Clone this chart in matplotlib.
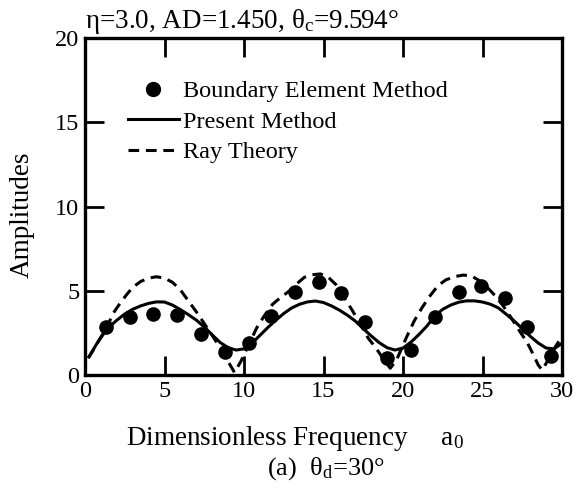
import numpy as np
import matplotlib
matplotlib.use('Agg')
import matplotlib.pyplot as plt
from matplotlib.lines import Line2D

# Boundary Element Method (dots)
bem_a0 = [1.3, 2.8, 4.3, 5.8, 7.3, 8.8, 10.3, 11.7, 13.2, 14.7, 16.1, 17.6,
          19.0, 20.5, 22.0, 23.5, 24.9, 26.4, 27.8, 29.3, 30.35]
bem_amp = [2.85, 3.45, 3.62, 3.56, 2.45, 1.35, 1.88, 3.5, 4.95, 5.5, 4.87, 3.16,
           1.0, 1.5, 3.45, 4.94, 5.28, 4.55, 2.82, 1.1, 2.0]

# Present Method (solid)
pm_a0 = [0.2, 0.8, 1.4, 2.0, 2.5, 3.0, 3.5, 4.0, 4.5, 5.0, 5.5, 6.0, 6.5, 7.0,
         7.5, 8.0, 8.5, 9.0, 9.5, 10.0, 10.5, 11.0, 11.5, 12.0, 12.5, 13.0,
         13.5, 14.0, 14.5, 15.0, 15.5, 16.0, 16.5, 17.0, 17.5, 18.0, 18.5,
         19.0, 19.5, 20.0, 20.5, 21.0, 21.5, 22.0, 22.5, 23.0, 23.5, 24.0,
         24.5, 25.0, 25.5, 26.0, 26.5, 27.0, 27.5, 28.0, 28.5, 29.0, 29.5, 30.0]
pm_amp = [1.0, 1.95, 2.75, 3.25, 3.62, 3.9, 4.1, 4.25, 4.34, 4.33, 4.15, 3.88,
          3.58, 3.26, 2.85, 2.38, 1.93, 1.62, 1.48, 1.55, 1.88, 2.35, 2.82,
          3.25, 3.65, 3.98, 4.2, 4.34, 4.39, 4.3, 4.1, 3.85, 3.55, 3.2, 2.75,
          2.32, 1.92, 1.62, 1.48, 1.6, 1.95, 2.4, 2.9, 3.5, 3.9, 4.15, 4.32,
          4.4, 4.4, 4.33, 4.2, 3.98, 3.6, 3.2, 2.75, 2.3, 1.9, 1.6, 1.55, 1.88]

# Ray Theory (dashed)
rt_a0 = [0.2, 0.6, 1.0, 1.4, 1.8, 2.2, 2.6, 3.0, 3.5, 4.0, 4.5, 5.0, 5.5, 6.0,
         6.5, 7.0, 7.5, 8.0, 8.5, 9.0, 9.4, 9.8, 10.3, 10.8, 11.3, 11.8, 12.3,
         12.8, 13.3, 13.8, 14.3, 14.8, 15.3, 15.8, 16.3, 16.8, 17.3, 17.8,
         18.3, 18.8, 19.2, 19.6, 20.2, 20.7, 21.2, 21.7, 22.2, 22.7, 23.3,
         23.8, 24.3, 24.8, 25.3, 25.8, 26.3, 26.8, 27.3, 27.8, 28.2, 28.5,
         28.75, 29.2, 29.6, 30.0]
rt_amp = [1.0, 1.6, 2.25, 2.9, 3.7, 4.25, 4.75, 5.2, 5.55, 5.75, 5.83, 5.75,
          5.5, 5.05, 4.4, 3.75, 3.05, 2.35, 1.6, 0.8, 0.15, 0.8, 1.8, 2.8,
          3.55, 4.2, 4.6, 4.95, 5.4, 5.8, 5.95, 6.0, 5.8, 5.35, 4.6, 3.85,
          3.05, 2.2, 1.6, 0.9, 0.4, 0.9, 2.2, 3.2, 4.0, 4.7, 5.3, 5.65, 5.85,
          5.93, 5.88, 5.6, 5.2, 4.7, 4.1, 3.4, 2.65, 1.95, 1.2, 0.6, 0.3, 1.0,
          1.7, 2.3]

x_ticks = [0, 5, 10, 15, 20, 25, 30]
y_ticks = [0, 5, 10, 15, 20]

plt.rcParams['font.family'] = ['Liberation Serif', 'DejaVu Serif']
plt.rcParams['mathtext.fontset'] = 'custom'
plt.rcParams['mathtext.rm'] = 'Liberation Serif'
plt.rcParams['mathtext.it'] = 'Liberation Serif'

fig = plt.figure(figsize=(5.76, 4.97), dpi=100)
ax = fig.add_axes([0.1476, 0.2455, 0.8281, 0.678])

ax.plot(pm_a0, pm_amp, color='black', lw=2.2, solid_capstyle='butt')
ax.plot(rt_a0, rt_amp, color='black', lw=2.2, dashes=(3.5, 2.2))
ax.plot(bem_a0, bem_amp, 'o', color='black', ms=9.5, clip_on=True)

ax.set_xlim(0, 30)
ax.set_ylim(0, 20)
ax.set_xticks(x_ticks)
ax.set_yticks(y_ticks)
ax.tick_params(direction='in', length=14, width=2.0, top=True, right=True,
               labelsize=17.5, pad=4)
for s in ax.spines.values():
    s.set_linewidth(2.4)

ax.set_xlabel('Dimensionless Frequency     a$_0$', fontsize=19.5)
ax.xaxis.set_label_coords(0.44, -0.145)
ax.set_ylabel('Amplitudes', fontsize=19.5)
ax.yaxis.set_label_coords(-0.105, 0.475)
ax.set_title('\u03b7=3.0, AD=1.450, \u03b8$_c$=9.594\u00b0', loc='left',
             fontsize=19.5, pad=7)
fig.text(0.565, 0.045, '(a)  \u03b8$_d$=30\u00b0', fontsize=19, ha='center')

handles = [Line2D([], [], marker='o', ls='none', color='black', ms=10),
           Line2D([], [], color='black', lw=2.2),
           Line2D([], [], color='black', lw=2.2, dashes=(3.5, 2.2))]
labels = ['Boundary Element Method', 'Present Method', 'Ray Theory']
ax.legend(handles, labels, loc='upper left', bbox_to_anchor=(0.09, 0.875),
          frameon=False, fontsize=17.5, handlelength=2.1, handletextpad=0.15,
          labelspacing=0.35, borderpad=0, borderaxespad=0)

fig.savefig('out.png', dpi=100)
